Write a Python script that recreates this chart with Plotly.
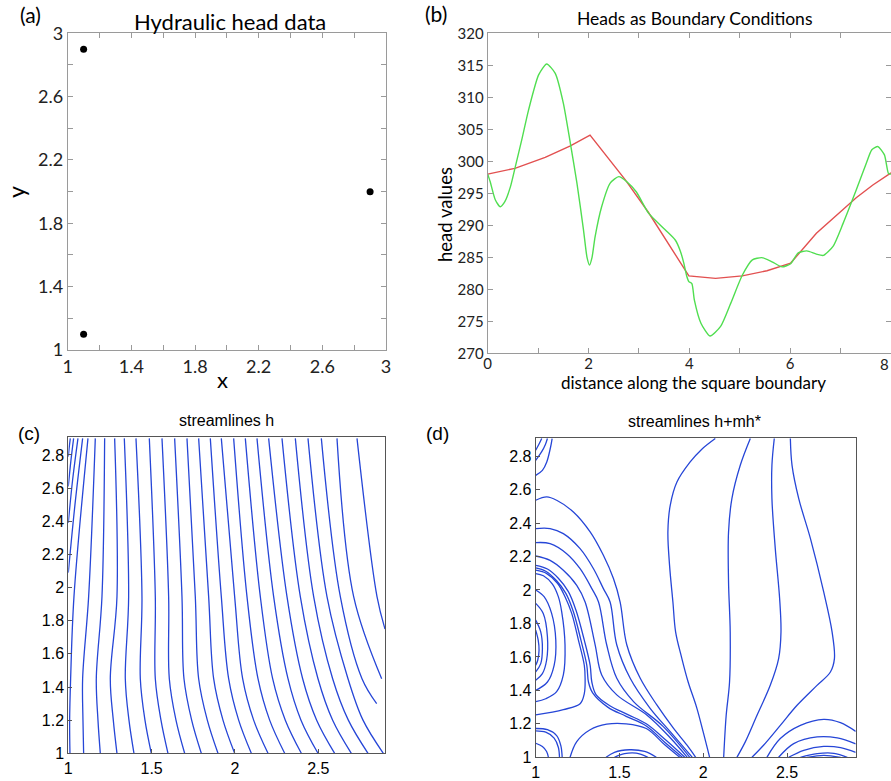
import plotly.graph_objects as go

W, H = 891, 781

# ---------------- (a) Hydraulic head data ----------------
a_x = [1.1, 2.9, 1.1]
a_y = [2.9, 2.0, 1.1]
a_ticks = [1.0, 1.2, 1.4, 1.6, 1.8, 2.0, 2.2, 2.4, 2.6, 2.8, 3.0]
a_ticktext = ["1", "", "1.4", "", "1.8", "", "2.2", "", "2.6", "", "3"]

# ---------------- (b) Heads as boundary conditions ----------------
b_green_x = [0.0, 0.05, 0.15, 0.25, 0.34, 0.45, 0.54, 0.68, 0.81, 1.01, 1.17, 1.34, 1.50,
             1.64, 1.77, 1.90, 1.97, 2.02, 2.07, 2.13, 2.26, 2.43, 2.60, 2.76, 2.95, 3.19,
             3.52, 3.72, 3.82, 3.89, 3.95, 3.99, 4.05, 4.10, 4.23, 4.41, 4.62, 4.82, 5.05,
             5.25, 5.44, 5.64, 5.84, 6.01, 6.16, 6.33, 6.52, 6.66, 6.85, 7.05, 7.31, 7.51,
             7.62, 7.74, 7.87, 7.95, 8.0]
b_green_y = [298.0, 296.8, 294.0, 292.9, 293.7, 296.0, 298.9, 303.5, 308.0, 313.5, 315.2, 313.75, 309.1,
             302.8, 296.6, 289.3, 285.0, 283.8, 285.0, 288.2, 292.9, 296.6, 297.6, 296.8, 295.2, 291.9,
             289.3, 287.7, 286.0, 284.1, 282.0, 281.2, 280.9, 278.3, 274.7, 272.7, 274.2, 277.8, 282.2,
             284.6, 284.95, 284.3, 283.5, 284.0, 285.7, 286.0, 285.5, 285.3, 286.7, 290.3, 295.5, 299.7,
             301.8, 302.3, 301.0, 298.1, 298.0]
b_red_x = [0.0, 0.54, 1.14, 1.64, 2.03, 2.73, 3.19, 3.99, 4.52, 5.05, 5.54, 6.01, 6.52, 6.98, 7.31, 7.64, 8.0]
b_red_y = [298.0, 298.9, 300.6, 302.4, 304.1, 297.1, 292.0, 282.1, 281.7, 282.1, 282.9, 284.1, 288.75, 291.9, 294.3, 296.3, 298.2]
b_yticks = [270, 275, 280, 285, 290, 295, 300, 305, 310, 315, 320]
b_xticks = [0, 1, 2, 3, 4, 5, 6, 7, 8]
b_xticktext = ["0", "", "2", "", "4", "", "6", "", "8"]

# ---------------- (c) streamlines h ----------------
# short lines that leave the left edge and run to the top
c_edge_lines = [
    [(1.0, 2.79), (1.006, 2.85), (1.012, 2.9)],
    [(1.0, 2.61), (1.015, 2.76), (1.032, 2.9)],
    [(1.0, 2.39), (1.026, 2.65), (1.058, 2.9)],
    [(1.0, 2.09), (1.040, 2.50), (1.086, 2.9)],
]
# the other lines, read at y = 2.9 (top), 1.945, 1.45, 1.2 and where they end
c_levels_y = [2.9, 1.945, 1.45, 1.2]
c_top_x = [1.118, 1.162, 1.218, 1.278, 1.336, 1.406, 1.486, 1.562, 1.638, 1.712, 1.782, 1.852,
           1.918, 1.992, 2.062, 2.132, 2.202, 2.282, 2.362, 2.438, 2.518, 2.612, 2.732]
c_mid_x = [1.034, 1.122, 1.202, 1.292, 1.362, 1.442, 1.522, 1.602, 1.682, 1.762, 1.842, 1.918,
           1.998, 2.072, 2.152, 2.232, 2.312, 2.392, 2.472, 2.552, 2.632, 2.712, 2.852]
c_low_x = [1.014, 1.086, 1.168, 1.252, 1.342, 1.432, 1.522, 1.606, 1.694, 1.782, 1.872, 1.962,
           2.046, 2.138, 2.226, 2.318, 2.406, 2.498, 2.586, 2.678, 2.762, None, None]
c_l12_x = [1.008, 1.088, 1.178, 1.270, 1.364, 1.460, 1.556, 1.646, 1.740, 1.834, 1.928, 2.022,
           2.112, 2.208, 2.302, 2.396, 2.490, 2.586, 2.680, 2.768, None, None, None]
c_end_x = [1.010, 1.092, 1.192, 1.292, 1.394, 1.498, 1.598, 1.698, 1.798, 1.898, 1.998, 2.098,
           2.198, 2.298, 2.398, 2.498, 2.598, 2.698, 2.798, 2.89, 2.85, 2.88, 2.9]
c_end_y = [1.0] * 20 + [1.30, 1.45, 1.75]
c_xticks = [1, 1.5, 2, 2.5]
c_yticks = [1, 1.2, 1.4, 1.6, 1.8, 2, 2.2, 2.4, 2.6, 2.8]

# ---------------- (d) streamlines h+mh* ----------------
d_lines = {
    "T1": [(1.0, 2.835), (1.02, 2.872), (1.036, 2.905)],
    "T2": [(1.0, 2.775), (1.035, 2.825), (1.058, 2.87), (1.07, 2.905)],
    "T3": [(1.0, 2.685), (1.04, 2.715), (1.066, 2.765), (1.088, 2.85), (1.098, 2.905)],
    "A": [(1.0, 2.536), (1.066, 2.556), (1.125, 2.536), (1.225, 2.466), (1.325, 2.347), (1.404, 2.207),
          (1.464, 2.068), (1.504, 1.928), (1.544, 1.671), (1.624, 1.472), (1.723, 1.313), (1.823, 1.173),
          (1.902, 1.074), (1.955, 1.0)],
    "B": [(1.0, 2.367), (1.086, 2.367), (1.165, 2.337), (1.265, 2.247), (1.345, 2.127), (1.404, 2.008),
          (1.444, 1.928), (1.484, 1.671), (1.564, 1.472), (1.683, 1.293), (1.803, 1.153), (1.935, 1.0)],
    "C": [(1.0, 2.283), (1.086, 2.277), (1.185, 2.217), (1.265, 2.127), (1.335, 2.008), (1.375, 1.928),
          (1.424, 1.671), (1.484, 1.472), (1.584, 1.333), (1.76, 1.185), (1.92, 1.0)],
    "D": [(1.0, 2.203), (1.086, 2.177), (1.165, 2.118), (1.245, 2.028), (1.295, 1.928), (1.355, 1.671),
          (1.394, 1.492), (1.484, 1.373), (1.663, 1.253), (1.80, 1.12), (1.905, 1.0)],
    "E": [(1.0, 2.147), (1.07, 2.125), (1.135, 2.07), (1.195, 1.99), (1.24, 1.88), (1.29, 1.70),
          (1.325, 1.55), (1.335, 1.45), (1.36, 1.375), (1.44, 1.31), (1.55, 1.255), (1.66, 1.20),
          (1.78, 1.10), (1.89, 1.0)],
    "E2": [(1.0, 2.132), (1.06, 2.112), (1.125, 2.055), (1.18, 1.98), (1.225, 1.87), (1.27, 1.70),
           (1.305, 1.55), (1.315, 1.45), (1.34, 1.385), (1.43, 1.30), (1.54, 1.245), (1.66, 1.187),
           (1.77, 1.09), (1.875, 1.0)],
    "F": [(1.0, 2.118), (1.066, 2.098), (1.13, 2.04), (1.175, 1.96), (1.215, 1.86), (1.255, 1.70),
          (1.29, 1.55), (1.295, 1.47), (1.29, 1.38), (1.265, 1.32), (1.165, 1.285), (1.0, 1.253)],
    "G": [(1.0, 2.098), (1.046, 2.085), (1.10, 2.035), (1.135, 1.96), (1.155, 1.871), (1.175, 1.671),
          (1.165, 1.492), (1.125, 1.392), (1.06, 1.35), (1.0, 1.333)],
    "L1": [(1.0, 2.0), (1.05, 1.96), (1.095, 1.86), (1.12, 1.7), (1.11, 1.55), (1.07, 1.45), (1.0, 1.40)],
    "L2": [(1.0, 1.92), (1.045, 1.86), (1.07, 1.72), (1.065, 1.58), (1.04, 1.50), (1.0, 1.46)],
    "L3": [(1.0, 1.82), (1.03, 1.75), (1.04, 1.65), (1.03, 1.56), (1.0, 1.51)],
    "L4": [(1.0, 1.76), (1.015, 1.70), (1.02, 1.64), (1.012, 1.58), (1.0, 1.55)],
    "Bot1": [(1.205, 1.0), (1.245, 1.094), (1.325, 1.165), (1.424, 1.198), (1.54, 1.2), (1.66, 1.172),
             (1.77, 1.075), (1.86, 1.0)],
    "Lens1": [(1.42, 1.0), (1.47, 1.03), (1.56, 1.045), (1.65, 1.035), (1.72, 1.0)],
    "Lens2": [(1.47, 1.0), (1.53, 1.022), (1.6, 1.025), (1.67, 1.0)],
    "BL1": [(1.0, 1.172), (1.07, 1.165), (1.125, 1.13), (1.15, 1.07), (1.158, 1.0)],
    "BL2": [(1.0, 1.158), (1.06, 1.15), (1.11, 1.115), (1.135, 1.06), (1.142, 1.0)],
    "BL3": [(1.0, 1.084), (1.04, 1.065), (1.065, 1.035), (1.076, 1.0)],
    "V1": [(2.072, 2.905), (1.99, 2.84), (1.922, 2.765), (1.843, 2.645), (1.803, 2.506), (1.789, 2.347),
           (1.799, 2.147), (1.819, 1.928), (1.835, 1.75), (1.87, 1.6), (1.91, 1.45), (1.96, 1.3),
           (2.0, 1.15), (2.038, 1.0)],
    "V2": [(2.281, 2.905), (2.221, 2.745), (2.171, 2.546), (2.151, 2.347), (2.151, 2.048), (2.161, 1.749),
           (2.157, 1.45), (2.137, 1.251), (2.122, 1.0)],
    "V3": [(2.424, 2.905), (2.41, 2.745), (2.41, 2.546), (2.43, 2.247), (2.456, 1.948), (2.464, 1.749),
           (2.45, 1.59), (2.4, 1.43), (2.321, 1.251), (2.251, 1.092), (2.201, 1.0)],
    "V4": [(2.52, 2.905), (2.53, 2.745), (2.57, 2.546), (2.64, 2.307), (2.719, 1.988), (2.769, 1.749),
           (2.783, 1.59), (2.759, 1.51), (2.679, 1.43), (2.56, 1.311), (2.46, 1.191), (2.36, 1.072),
           (2.291, 1.0)],
    "R1": [(2.38, 1.0), (2.46, 1.112), (2.58, 1.191), (2.719, 1.227), (2.819, 1.207), (2.91, 1.155)],
    "R2": [(2.45, 1.0), (2.54, 1.082), (2.68, 1.122), (2.8, 1.116), (2.91, 1.08)],
    "R3": [(2.51, 1.0), (2.6, 1.042), (2.719, 1.065), (2.82, 1.058), (2.91, 1.03)],
    "R4": [(2.58, 1.0), (2.68, 1.022), (2.78, 1.024), (2.86, 1.0)],
    "R5": [(2.62, 1.0), (2.72, 1.012), (2.82, 1.0)],
}
d_xticks = [1, 1.5, 2, 2.5]
d_yticks = [1, 1.2, 1.4, 1.6, 1.8, 2, 2.2, 2.4, 2.6, 2.8]

# ---------------- styles ----------------
CAL = "Lato"
HEL = "Liberation Sans"
STREAM = dict(color="rgb(38,70,215)", width=1.3, shape="spline", smoothing=1.0)


def px(x):
    return x / W


def py(y):
    return 1 - y / H


def add_line(points, xa, ya):
    fig.add_trace(go.Scatter(x=[p[0] for p in points], y=[p[1] for p in points], mode="lines",
                             line=STREAM, xaxis=xa, yaxis=ya, showlegend=False, hoverinfo="skip"))


fig = go.Figure()

# (a)
fig.add_trace(go.Scatter(x=a_x, y=a_y, mode="markers", marker=dict(color="black", size=7),
                         xaxis="x", yaxis="y", showlegend=False))
# (b)
fig.add_trace(go.Scatter(x=b_red_x, y=b_red_y, mode="lines",
                         line=dict(color="rgb(226,80,80)", width=1.4),
                         xaxis="x2", yaxis="y2", showlegend=False))
fig.add_trace(go.Scatter(x=b_green_x, y=b_green_y, mode="lines",
                         line=dict(color="rgb(80,222,80)", width=1.4, shape="spline", smoothing=0.6),
                         xaxis="x2", yaxis="y2", showlegend=False))

# (c)
for line in c_edge_lines:
    add_line(line, "x3", "y3")
for i in range(len(c_top_x)):
    cols = [c_top_x[i], c_mid_x[i], c_low_x[i], c_l12_x[i]]
    pts = [(cx, cy) for cx, cy in zip(cols, c_levels_y) if cx is not None]
    pts.append((c_end_x[i], c_end_y[i]))
    add_line(pts, "x3", "y3")

# (d)
for name, line in d_lines.items():
    add_line(line, "x4", "y4")

ab_axis = dict(showgrid=False, zeroline=False, showline=True, linecolor="#9a9a9a", linewidth=1,
               mirror="ticks", ticks="inside", ticklen=5, tickcolor="#9a9a9a", automargin=False)
cd_axis = dict(showgrid=False, zeroline=False, showline=True, linecolor="#555", linewidth=1,
               mirror=True, ticks="inside", ticklen=4, tickcolor="#555", automargin=False,
               tickfont=dict(family=HEL, size=16, color="black"))

fig.update_layout(
    width=W, height=H, autosize=False, margin=dict(l=0, r=0, t=0, b=0, pad=0),
    paper_bgcolor="white", plot_bgcolor="white",
    xaxis=dict(ab_axis, domain=[px(67.7), px(386)], range=[1, 3], tickvals=a_ticks, ticktext=a_ticktext,
               tickfont=dict(family=CAL, size=18, color="#222"), anchor="y"),
    yaxis=dict(ab_axis, domain=[py(350), py(33.3)], range=[1, 3], tickvals=a_ticks, ticktext=a_ticktext,
               tickfont=dict(family=CAL, size=18, color="#222"), anchor="x"),
    xaxis2=dict(ab_axis, domain=[px(487.7), 1.0], range=[0, 8], tickvals=b_xticks, ticktext=b_xticktext,
                tickfont=dict(family=CAL, size=15, color="#222"), anchor="y2", ticklabelstandoff=-3),
    yaxis2=dict(ab_axis, domain=[py(353.3), py(33.3)], range=[270, 320], tickvals=b_yticks,
                tickfont=dict(family=CAL, size=15, color="#222"), anchor="x2"),
    xaxis3=dict(cd_axis, domain=[px(68.3), px(385)], range=[1, 2.9], tickvals=c_xticks, anchor="y3"),
    yaxis3=dict(cd_axis, domain=[py(753.3), py(436.7)], range=[1, 2.91], tickvals=c_yticks, anchor="x3"),
    xaxis4=dict(cd_axis, domain=[px(535.7), px(855.7)], range=[1, 2.91], tickvals=d_xticks, anchor="y4"),
    yaxis4=dict(cd_axis, domain=[py(757.3), py(437.7)], range=[1, 2.91], tickvals=d_yticks, anchor="x4"),
)


def note(text, x, y, family, size, angle=0, xanchor="center", color="black"):
    fig.add_annotation(text=text, x=px(x), y=py(y), xref="paper", yref="paper",
                       xanchor=xanchor, yanchor="middle", showarrow=False, textangle=angle,
                       font=dict(family=family, size=size, color=color))


note("(a)", 30, 15, CAL, 21)
note("(b)", 436, 14, CAL, 21)
note("(c)", 29, 433, HEL, 19)
note("(d)", 437, 433, HEL, 19)
note("Hydraulic head data", 230, 22, CAL, 22)
note("x", 222, 379, CAL, 22)
note("y", 16, 192, CAL, 23, -90)
note("Heads as Boundary Conditions", 694, 19, CAL, 17.5)
note("distance along the square boundary", 693, 382, CAL, 17)
note("head values", 445, 215, CAL, 18.5, -90)
note("streamlines h", 226, 420, HEL, 16)
note("streamlines h+mh*", 694, 421, HEL, 16)
# the last x tick label of (b) sits on the figure's right edge
note(b_xticktext[-1], 891, 364, CAL, 15, xanchor="right", color="#222")

fig.write_html("out.html", config={"displayModeBar": False},
               post_script="document.body.style.margin='0px';")
